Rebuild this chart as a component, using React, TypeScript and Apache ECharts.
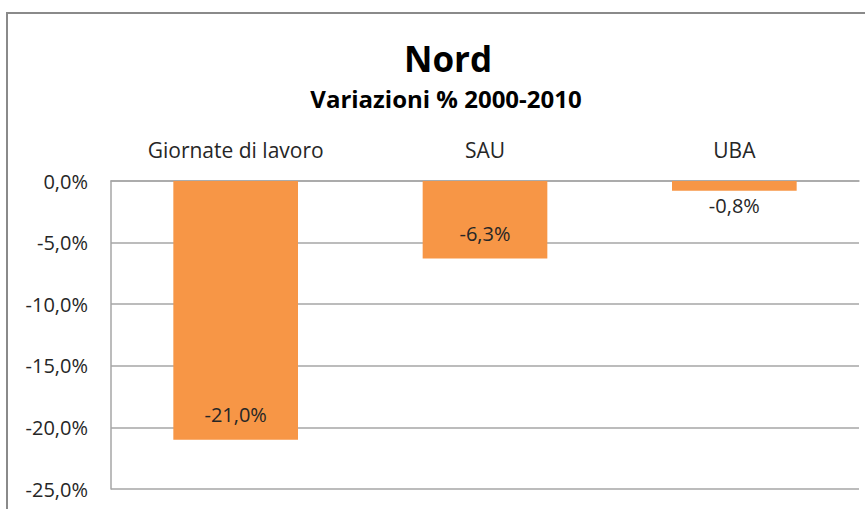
import React, { useEffect, useRef } from "react";
import * as echarts from "echarts";

const categories = ["Giornate di lavoro", "SAU", "UBA"];
const values = [-21.0, -6.3, -0.8];
const labelPositions = ["insideBottom", "insideBottom", "bottom"];
const labelDistances = [15, 15, 5];
const titleText = "Nord";
const subtitleText = "Variazioni % 2000-2010";
const yMin = -25;
const yMax = 0;
const yInterval = 5;

const FONT = "'Open Sans', 'Liberation Sans', sans-serif";
const fmt = (v: number) => v.toFixed(1).replace(".", ",") + "%";

export default function App() {
  const ref = useRef<HTMLDivElement>(null);
  useEffect(() => {
    if (!ref.current) return;
    const chart = echarts.init(ref.current, undefined, { renderer: "svg" });
    chart.setOption({
      animation: false,
      backgroundColor: "#ffffff",
      graphic: [
        {
          type: "rect",
          shape: { x: 7, y: 13, width: 900, height: 600 },
          style: { fill: "none", stroke: "#8a8a8a", lineWidth: 2 },
          silent: true,
        },
        {
          type: "text",
          x: 448,
          y: 58,
          style: {
            text: titleText,
            fontSize: 35,
            fontWeight: "bold",
            fontFamily: FONT,
            fill: "#000000",
            align: "center",
            verticalAlign: "middle",
          },
        },
        {
          type: "text",
          x: 446,
          y: 98,
          style: {
            text: subtitleText,
            fontSize: 24,
            fontWeight: "bold",
            fontFamily: FONT,
            fill: "#000000",
            align: "center",
            verticalAlign: "middle",
          },
        },
      ],
      grid: { left: 111, right: 6, top: 181, bottom: 20, containLabel: false },
      xAxis: {
        type: "category",
        position: "top",
        data: categories,
        axisLine: { show: true, lineStyle: { color: "#a6a6a6", width: 1.5 } },
        axisTick: { show: false },
        axisLabel: {
          fontSize: 21,
          fontFamily: FONT,
          color: "#262626",
          margin: 21,
        },
      },
      yAxis: {
        type: "value",
        min: yMin,
        max: yMax,
        interval: yInterval,
        axisLine: { show: true, lineStyle: { color: "#a6a6a6", width: 1.5 } },
        axisTick: { show: false },
        splitLine: { show: true, lineStyle: { color: "#a6a6a6", width: 1.5 } },
        axisLabel: {
          fontSize: 20,
          fontFamily: FONT,
          color: "#262626",
          margin: 23,
          formatter: (v: number) => fmt(v),
        },
      },
      series: [
        {
          type: "bar",
          barWidth: "50%",
          itemStyle: { color: "#F79646" },
          data: values.map((v, i) => ({
            value: v,
            label: {
              show: true,
              position: labelPositions[i],
              distance: labelDistances[i],
            },
          })),
          label: {
            show: true,
            fontSize: 20,
            fontFamily: FONT,
            color: "#262626",
            formatter: (p: any) => fmt(p.value),
          },
        },
      ],
    });
    return () => chart.dispose();
  }, []);
  return (
    <div
      ref={ref}
      style={{ position: "fixed", left: 0, top: 0, width: 865, height: 509 }}
    />
  );
}
